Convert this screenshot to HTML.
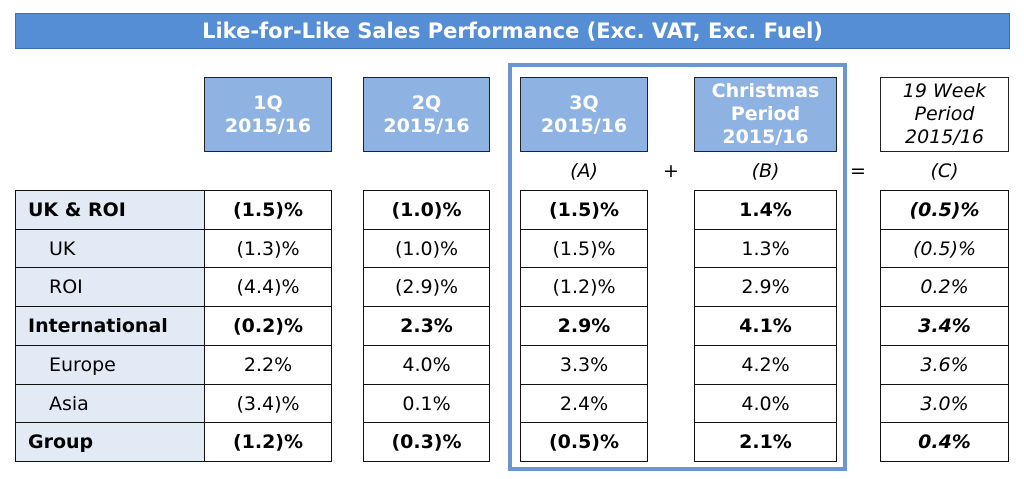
<!DOCTYPE html>
<html><head><meta charset="utf-8"><style>
body{margin:0;width:1024px;height:479px;background:#fff;position:relative;overflow:hidden;font-family:"DejaVu Sans","Liberation Sans",sans-serif;color:#000}
.abs{position:absolute;box-sizing:border-box}
.title{left:15px;top:13px;width:995px;height:36px;background:#558ed5;border:1px solid #3f6fae;color:#fff;font-weight:bold;font-size:21px;text-align:center;line-height:34px}
.hdr{top:77px;height:75px;background:#8eb3e3;border:1.5px solid #222;color:#fff;font-weight:bold;font-size:19px;text-align:center;display:flex;align-items:center;justify-content:center;line-height:23px}
.cell{border:1.5px solid #111;font-size:19px;text-align:center;display:flex;align-items:center;justify-content:center;background:#fff}
.lab{justify-content:flex-start;padding-left:12px;background:#e2eaf5}
.b{font-weight:bold}.i{font-style:italic}
.sym{font-size:19px;text-align:center;top:160px}
</style></head><body>
<div class="abs title">Like-for-Like Sales Performance (Exc. VAT, Exc. Fuel)</div>
<div class="abs" style="left:508px;top:63px;width:339px;height:408px;border:4px solid #6b96d0"></div>
<div class="abs hdr" style="left:204px;width:128px">1Q<br>2015/16</div>
<div class="abs hdr" style="left:363px;width:127px">2Q<br>2015/16</div>
<div class="abs hdr" style="left:520px;width:128px">3Q<br>2015/16</div>
<div class="abs hdr" style="left:694px;width:143px">Christmas<br>Period<br>2015/16</div>
<div class="abs hdr" style="left:880px;width:129px;background:#fff;color:#000;font-weight:normal;font-style:italic">19 Week<br>Period<br>2015/16</div>
<div class="abs sym i" style="left:520px;width:128px">(A)</div>
<div class="abs sym" style="left:660px;width:22px">+</div>
<div class="abs sym i" style="left:694px;width:143px">(B)</div>
<div class="abs sym" style="left:847px;width:22px">=</div>
<div class="abs sym i" style="left:880px;width:129px">(C)</div>
<div id="t"></div>
<script>
const labels=["UK & ROI","UK","ROI","International","Europe","Asia","Group"];
const bold=[1,0,0,1,0,0,1];
const q1=["(1.5)%","(1.3)%","(4.4)%","(0.2)%","2.2%","(3.4)%","(1.2)%"];
const q2=["(1.0)%","(1.0)%","(2.9)%","2.3%","4.0%","0.1%","(0.3)%"];
const q3=["(1.5)%","(1.5)%","(1.2)%","2.9%","3.3%","2.4%","(0.5)%"];
const xmas=["1.4%","1.3%","2.9%","4.1%","4.2%","4.0%","2.1%"];
const wk19=["(0.5)%","(0.5)%","0.2%","3.4%","3.6%","3.0%","0.4%"];
const cols=[[q1,204,128,''],[q2,363,127,''],[q3,520,128,''],[xmas,694,143,''],[wk19,880,129,' i']];
const t=document.body;
const top0=190,rh=38.7;
labels.forEach((l,r)=>{
 const y=top0+r*rh;
 let d=document.createElement('div');
 d.className='abs cell lab'+(bold[r]?' b':'');
 d.style.cssText=`left:15px;top:${y}px;width:190px;height:${rh+1.5}px;`+(bold[r]?'':'padding-left:33px');
 d.textContent=l;
 
 
 t.appendChild(d);
 cols.forEach(c=>{
  let e=document.createElement('div');
  e.className='abs cell'+(bold[r]?' b':'')+c[3];
  e.style.cssText=`left:${c[1]}px;top:${y}px;width:${c[2]}px;height:${rh+1.5}px`;
  e.textContent=c[0][r];
  
  
  t.appendChild(e);
 });
});
</script>
</body></html>
